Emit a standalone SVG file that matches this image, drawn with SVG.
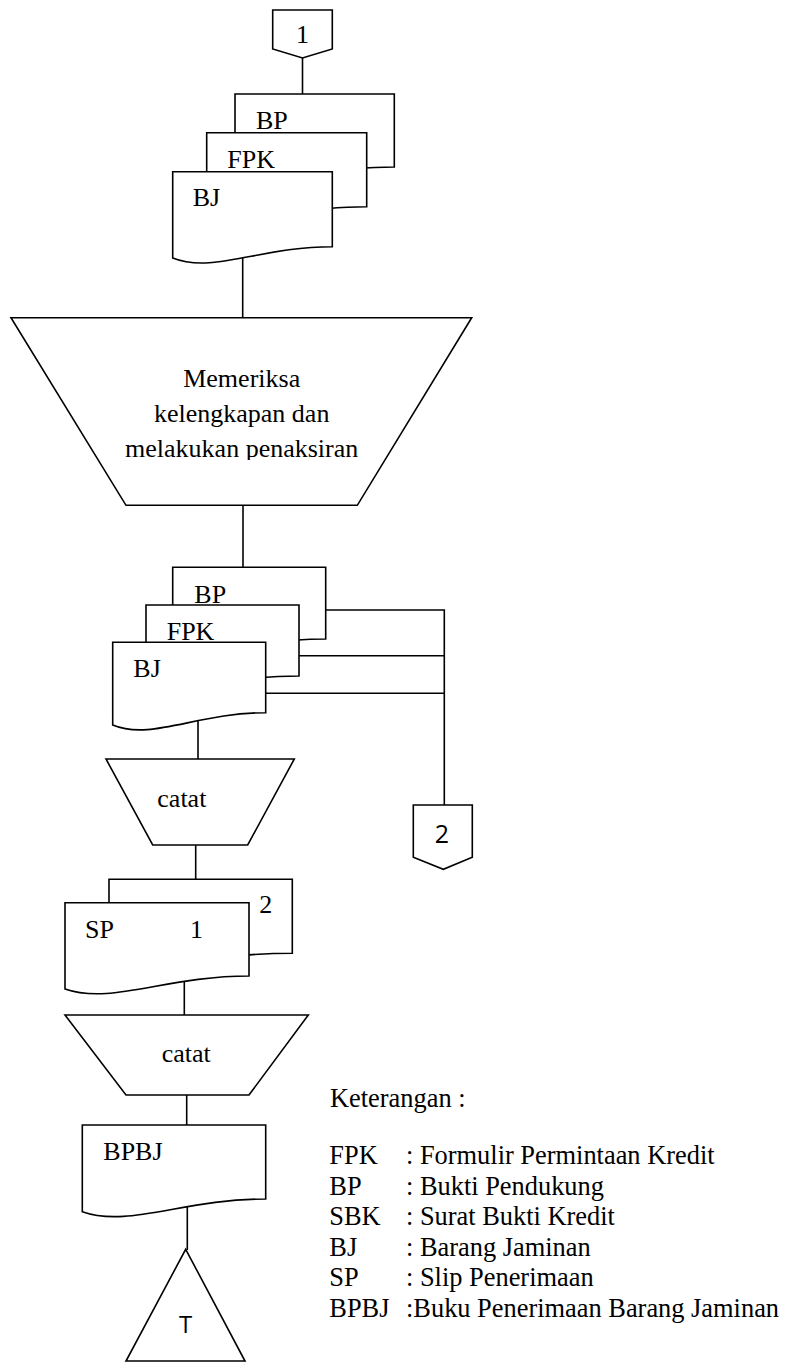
<svg xmlns="http://www.w3.org/2000/svg" width="787" height="1362" viewBox="0 0 787 1362">
  <style>
    .shape { fill: #fff; stroke: #000; stroke-width: 1.6; stroke-linejoin: miter; }
    .line { fill: none; stroke: #000; stroke-width: 1.6; }
    .serif { font-family: "Liberation Serif", "Times New Roman", serif; font-size: 26px; fill: #000; }
    .legend { font-family: "Liberation Serif", "Times New Roman", serif; font-size: 26.4px; fill: #000; }
    .sans { font-family: "Open Sans", "Liberation Sans", sans-serif; fill: #000; }
  </style>
  <defs>
    <clipPath id="clipMain">
      <rect x="0" y="330" width="787" height="130"/>
    </clipPath>
  </defs>
  <rect width="787" height="1362" fill="#fff"/>

  <!-- connectors -->
  <g id="connectors">
    <path class="line" d="M302.5,58 V95"/>
    <path class="line" d="M242.7,240 V318"/>
    <path class="line" d="M243,505 V568"/>
    <path class="line" d="M320,610 H444.3 V806"/>
    <path class="line" d="M295,655.7 H444.3"/>
    <path class="line" d="M260,693.3 H444.3"/>
    <path class="line" d="M198,710 V759.5"/>
    <path class="line" d="M195.7,845 V880"/>
    <path class="line" d="M184.3,970 V1015.5"/>
    <path class="line" d="M186.7,1095 V1125.5"/>
    <path class="line" d="M187.3,1195 V1250"/>
  </g>

  <!-- off-page connector 1 -->
  <g id="conn1">
    <path class="shape" d="M272.7,10 H332.3 V49 L302.5,58 L272.7,49 Z"/>
    <text class="serif" x="302.5" y="42.7" font-size="20" text-anchor="middle">1</text>
  </g>

  <!-- first document stack -->
  <g id="doc-bp1">
    <path class="shape" d="M235,94 H394.3 V167 C322.7,167 275,183 235,179 Z"/>
    <text class="serif" x="256" y="129">BP</text>
  </g>
  <g id="doc-fpk1">
    <path class="shape" d="M206.7,132.7 H366.7 V206.7 C295,206.7 247,223 206.7,218.7 Z"/>
    <text class="serif" x="227.3" y="168">FPK</text>
  </g>
  <g id="doc-bj1">
    <path class="shape" d="M172.7,171.7 H332.3 V246.7 C260.5,246.7 212.6,274 172.7,258 Z"/>
    <text class="serif" x="192.7" y="206">BJ</text>
  </g>

  <!-- manual operation: checking -->
  <g id="proc-periksa">
    <path class="shape" d="M11,317.7 H471.7 L357.3,505.3 H126 Z"/>
    <g clip-path="url(#clipMain)">
      <text class="serif" x="241.7" y="387.3" text-anchor="middle">Memeriksa</text>
      <text class="serif" x="241.7" y="422.3" text-anchor="middle">kelengkapan dan</text>
      <text class="serif" x="241.7" y="457.3" text-anchor="middle">melakukan penaksiran</text>
    </g>
  </g>

  <!-- second document stack -->
  <g id="doc-bp2">
    <path class="shape" d="M172.7,567.3 H325.7 V639 C256.9,639 211,655 172.7,651 Z"/>
    <text class="serif" x="194.3" y="602.7">BP</text>
  </g>
  <g id="doc-fpk2">
    <path class="shape" d="M146,605 H299 V676 C230.2,676 184.3,692 146,688 Z"/>
    <text class="serif" x="166.7" y="640">FPK</text>
  </g>
  <g id="doc-bj2">
    <path class="shape" d="M112.7,642.3 H265.7 V712.7 C196.9,712.7 151,741 112.7,725 Z"/>
    <text class="serif" x="133.3" y="677.3">BJ</text>
  </g>

  <!-- off-page connector 2 -->
  <g id="conn2">
    <path class="shape" d="M413.3,805 H472.3 V857.3 L443.3,869.3 L413.3,857.3 Z"/>
    <text class="sans" x="442" y="843.3" font-size="25" text-anchor="middle">2</text>
  </g>

  <!-- manual operation: catat -->
  <g id="proc-catat1">
    <path class="shape" d="M106,759 H294.3 L247.7,845 H152.7 Z"/>
    <text class="serif" x="157.3" y="806.7">catat</text>
  </g>

  <!-- receipt slip, two copies -->
  <g id="doc-sp2">
    <path class="shape" d="M109,879.3 H292.3 V953.3 C209.8,953.3 154.8,970 109,966 Z"/>
    <text class="serif" x="259.3" y="913.3">2</text>
  </g>
  <g id="doc-sp1">
    <path class="shape" d="M65,902.7 H249 V976 C166.2,976 111,1005 65,989 Z"/>
    <text class="serif" x="85" y="938.3">SP</text>
    <text class="serif" x="190" y="938.3">1</text>
  </g>

  <!-- manual operation: catat -->
  <g id="proc-catat2">
    <path class="shape" d="M65,1015 H308.3 L249,1095 H126 Z"/>
    <text class="serif" x="161.7" y="1061.7">catat</text>
  </g>

  <!-- ledger document -->
  <g id="doc-bpbj">
    <path class="shape" d="M82.3,1125 H265.7 V1199 C183.2,1199 128,1228 82.3,1211.7 Z"/>
    <text class="serif" x="103.3" y="1160">BPBJ</text>
  </g>

  <!-- file -->
  <g id="file-t">
    <path class="shape" d="M185.7,1249.3 L245,1361 H126 Z"/>
    <text class="sans" x="185.7" y="1333.3" font-size="24" text-anchor="middle">T</text>
  </g>

  <!-- legend -->
  <g id="legend">
    <text class="legend" x="330" y="1107.3">Keterangan :</text>
    <text class="legend" x="329.3" y="1164">FPK</text>
    <text class="legend" x="406" y="1164">: Formulir Permintaan Kredit</text>
    <text class="legend" x="329.3" y="1194.5">BP</text>
    <text class="legend" x="406" y="1194.5">: Bukti Pendukung</text>
    <text class="legend" x="329.3" y="1225">SBK</text>
    <text class="legend" x="406" y="1225">: Surat Bukti Kredit</text>
    <text class="legend" x="329.3" y="1255.5">BJ</text>
    <text class="legend" x="406" y="1255.5">: Barang Jaminan</text>
    <text class="legend" x="329.3" y="1286">SP</text>
    <text class="legend" x="406" y="1286">: Slip Penerimaan</text>
    <text class="legend" x="329.3" y="1316.5">BPBJ</text>
    <text class="legend" x="406" y="1316.5">:Buku Penerimaan Barang Jaminan</text>
  </g>
</svg>
